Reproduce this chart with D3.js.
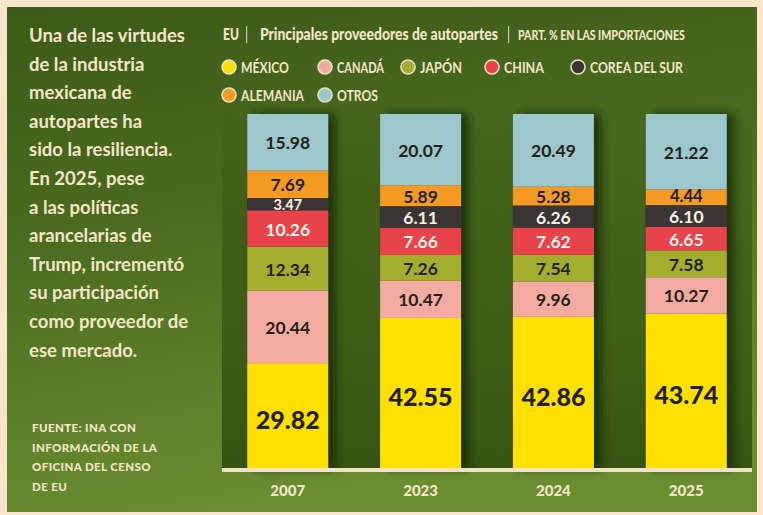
<!DOCTYPE html>
<html><head><meta charset="utf-8">
<script src="https://cdn.jsdelivr.net/npm/d3@7"></script>
<style>html,body{margin:0;padding:0;background:#fbe6cc;}svg{display:block;}</style>
</head><body>
<svg id="c" width="763" height="515"></svg>
<script>
// ---- data ----
const years = ["2007", "2023", "2024", "2025"];
const seriesNames = ["MÉXICO", "CANADÁ", "JAPÓN", "CHINA", "COREA DEL SUR", "ALEMANIA", "OTROS"];
const mexico   = [29.82, 42.55, 42.86, 43.74];
const canada   = [20.44, 10.47, 9.96, 10.27];
const japon    = [12.34, 7.26, 7.54, 7.58];
const china    = [10.26, 7.66, 7.62, 6.65];
const corea    = [3.47, 6.11, 6.26, 6.10];
const alemania = [7.69, 5.89, 5.28, 4.44];
const otros    = [15.98, 20.07, 20.49, 21.22];
const seriesColors = ["#ffe000", "#f5aba2", "#a4ae2e", "#e8434b", "#3a3432", "#f59a22", "#9cc7cd"];
const labelColors  = ["#241f16", "#241f16", "#241f16", "#fbf3ea", "#fbf3ea", "#241f16", "#241f16"];
const introLines = ["Una de las virtudes", "de la industria", "mexicana de", "autopartes ha",
  "sido la resiliencia.", "En 2025, pese", "a las políticas", "arancelarias de",
  "Trump, incrementó", "su participación", "como proveedor de", "ese mercado."];
const sourceLines = ["FUENTE: INA CON", "INFORMACIÓN DE LA", "OFICINA DEL CENSO", "DE EU"];

const values = [mexico, canada, japon, china, corea, alemania, otros];
const table = years.map((y, i) => {
  const o = {year: y};
  seriesNames.forEach((s, k) => o[s] = values[k][i]);
  return o;
});

const svg = d3.select("#c");
const cream = "#f4e7c9";
const defs = svg.append("defs");

// background gradient
const bg = defs.append("linearGradient").attr("id", "bg").attr("x1", 0).attr("y1", 0).attr("x2", 0.25).attr("y2", 1);
bg.append("stop").attr("offset", 0).attr("stop-color", "#3d5a18");
bg.append("stop").attr("offset", 0.45).attr("stop-color", "#4b6b1f");
bg.append("stop").attr("offset", 1).attr("stop-color", "#6a8d30");
const band = defs.append("linearGradient").attr("id", "band").attr("x1", 0).attr("y1", 0).attr("x2", 0).attr("y2", 1);
band.append("stop").attr("offset", 0).attr("stop-color", "#2c460a").attr("stop-opacity", 0);
band.append("stop").attr("offset", 0.35).attr("stop-color", "#2c460a").attr("stop-opacity", 0.4);
band.append("stop").attr("offset", 1).attr("stop-color", "#2c460a").attr("stop-opacity", 0.82);
const sh = defs.append("filter").attr("id", "sh").attr("x", "-30%").attr("y", "-10%").attr("width", "160%").attr("height", "120%");
sh.append("feDropShadow").attr("dx", 7).attr("dy", 0).attr("stdDeviation", 5)
  .attr("flood-color", "#142300").attr("flood-opacity", 0.75);

svg.append("rect").attr("x", 7).attr("y", 7).attr("width", 750).attr("height", 505).attr("fill", "url(#bg)");

// ---- scales ----
const x = d3.scaleBand().domain(years).range([222, 752]).paddingInner(0.39).paddingOuter(0.19);
const y = d3.scaleLinear().domain([0, 100]).range([469, 114]);

svg.append("rect").attr("x", 222).attr("y", 105).attr("width", 530).attr("height", 364).attr("fill", "url(#band)");

const stack = d3.stack().keys(seriesNames)(table);

// shadows
svg.append("g").selectAll("rect").data(years).join("rect")
  .attr("x", d => x(d)).attr("y", y(100)).attr("width", x.bandwidth()).attr("height", y(0) - y(100))
  .attr("fill", "#333").attr("filter", "url(#sh)");

const g = svg.append("g");
stack.forEach((layer, k) => {
  g.append("g").selectAll("rect").data(layer).join("rect")
    .attr("x", d => x(d.data.year)).attr("width", x.bandwidth())
    .attr("y", d => y(d[1])).attr("height", d => y(d[0]) - y(d[1]))
    .attr("fill", seriesColors[k]);
});
function labelSize(h, k) {
  if (k === 0) return 25;
  if (h < 14) return 14.5;
  if (h < 17) return 16.5;
  return 17.5;
}
stack.forEach((layer, k) => {
  g.append("g").selectAll("text").data(layer).join("text")
    .attr("x", d => x(d.data.year) + x.bandwidth() / 2)
    .attr("y", d => {
      const h = y(d[0]) - y(d[1]);
      return (y(d[0]) + y(d[1])) / 2 + (k === 0 ? 3 : (h < 14 ? 0.5 : (h < 17 ? -0.8 : 0.5)));
    })
    .attr("text-anchor", "middle").attr("dominant-baseline", "central")
    .attr("font-family", "Lato, sans-serif").attr("font-weight", k === 0 ? 900 : 700)
    .attr("font-size", d => labelSize(y(d[0]) - y(d[1]), k))
    .attr("fill", labelColors[k])
    .text(d => values[k][years.indexOf(d.data.year)].toFixed(2));
});

// axis
const axis = svg.append("g").attr("transform", "translate(0,470)")
  .call(d3.axisBottom(x).tickSize(0).tickPadding(15));
axis.select(".domain").attr("d", "M222,0H752").attr("stroke", "#f3e3c6").attr("stroke-width", 4);
axis.selectAll("text").attr("font-family", "Lato, sans-serif").attr("font-weight", 900)
  .attr("font-size", 15).attr("fill", cream);

// intro text
svg.append("g").selectAll("text").data(introLines).join("text")
  .attr("x", 29).attr("y", (d, i) => 42 + i * 28.6)
  .attr("font-family", "Lato, sans-serif").attr("font-weight", 700).attr("font-size", 18.5)
  .attr("fill", cream).text(d => d);

// source
svg.append("g").selectAll("text").data(sourceLines).join("text")
  .attr("x", 32).attr("y", (d, i) => 432 + i * 19.5)
  .attr("font-family", "Lato, sans-serif").attr("font-weight", 900).attr("font-size", 11.5)
  .attr("letter-spacing", 0.4)
  .attr("fill", cream).text(d => d);

// condensed text helper: horizontally scale text to a target width
const tf = "Lato, sans-serif";
function condensed(parent, tx, ty, size, weight, target, str, fill) {
  const gg = parent.append("g");
  const t = gg.append("text").attr("x", 0).attr("y", 0).attr("font-family", tf)
    .attr("font-weight", weight).attr("font-size", size).attr("fill", fill || cream).text(str);
  const len = t.node().getComputedTextLength();
  const sx = target / len;
  gg.attr("transform", `translate(${tx},${ty}) scale(${sx},1)`);
  return gg;
}

// title
const title = svg.append("g");
condensed(title, 223, 40, 17, 900, 16, "EU");
title.append("rect").attr("x", 246).attr("y", 26).attr("width", 1.2).attr("height", 17).attr("fill", "#c9c4a8");
condensed(title, 260, 40, 17, 900, 238, "Principales proveedores de autopartes");
title.append("rect").attr("x", 508).attr("y", 26).attr("width", 1.2).attr("height", 17).attr("fill", "#c9c4a8");
condensed(title, 518, 40, 12.5, 900, 167, "PART. % EN LAS IMPORTACIONES");

// legend
const legendPos = [[229, 67, 48], [325, 67, 47], [408, 67, 42], [492, 67, 40], [578, 67, 93], [229, 95, 63], [325, 95, 41]];
const lg = svg.append("g");
seriesNames.forEach((s, k) => {
  const [cx, cy, w] = legendPos[k];
  lg.append("circle").attr("cx", cx).attr("cy", cy).attr("r", 7)
    .attr("fill", seriesColors[k]).attr("stroke", "#efe2c2").attr("stroke-width", 1.6);
  condensed(lg, cx + 12, cy + 5.5, 14.5, 700, w, s);
});
</script>
</body></html>
